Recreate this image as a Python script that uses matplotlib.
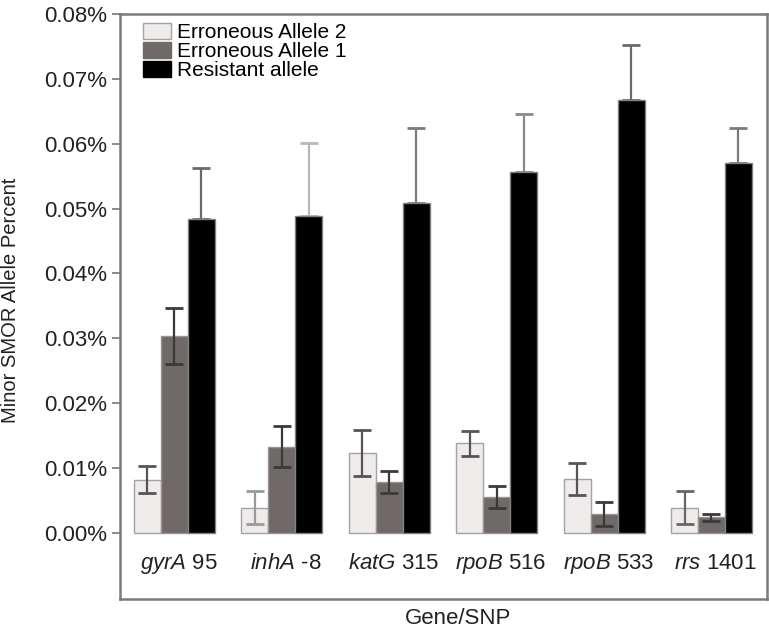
import matplotlib
matplotlib.use("Agg")
import matplotlib.pyplot as plt
import numpy as np
from matplotlib.patches import Patch

plt.rcParams['font.family'] = ['Liberation Sans', 'DejaVu Sans']
plt.rcParams['mathtext.fontset'] = 'custom'
plt.rcParams['mathtext.rm'] = 'Liberation Sans'
plt.rcParams['mathtext.it'] = 'Liberation Sans:italic'

genes = ['gyrA', 'inhA', 'katG', 'rpoB', 'rpoB', 'rrs']
positions = ['95', '-8', '315', '516', '533', '1401']

series_names = ['Erroneous Allele 2', 'Erroneous Allele 1', 'Resistant allele']
err2 = [0.0082, 0.0039, 0.0123, 0.0138, 0.0083, 0.0039]
err2_sd = [0.0021, 0.0026, 0.0036, 0.0019, 0.0025, 0.0025]
err1 = [0.0304, 0.0133, 0.0079, 0.0055, 0.0029, 0.0024]
err1_sd = [0.0043, 0.0032, 0.0017, 0.0017, 0.0019, 0.0005]
resist = [0.0484, 0.0488, 0.0508, 0.0557, 0.0668, 0.0570]
resist_sd = [0.0079, 0.0113, 0.0116, 0.0089, 0.0084, 0.0054]

yticks = [0.00, 0.01, 0.02, 0.03, 0.04, 0.05, 0.06, 0.07, 0.08]

# styling
fills = ['#eeebea', '#6f6968', '#000000']
edges = ['#a5a2a1', '#9a9594', '#808080']
ecols_err2 = ['#555555', '#999999', '#555555', '#555555', '#555555', '#666666']
ecols_err1 = ['#3a3a3a', '#3a3a3a', '#3a3a3a', '#3a3a3a', '#3a3a3a', '#3a3a3a']
ecols_res = ['#6a6a6a', '#b8b8b8', '#7a7a7a', '#8a8a8a', '#6a6a6a', '#7a7a7a']

fig = plt.figure(figsize=(7.69, 6.31), dpi=100)
ax = fig.add_axes([120/769, 32/631, (767-120)/769, (599-14)/631])

x = np.arange(len(genes))
w = 0.251
data = [(err2, err2_sd, ecols_err2), (err1, err1_sd, ecols_err1), (resist, resist_sd, ecols_res)]
for k, ((vals, sds, ecs), fc, ec) in enumerate(zip(data, fills, edges)):
    pos = x + (k - 1) * w
    ax.bar(pos, vals, width=w, color=fc, edgecolor=ec, linewidth=1.0, zorder=2)
    for i in range(len(vals)):
        if k < 2:
            yerr = sds[i]
            z = 3
        else:
            yerr = [[0], [sds[i]]]
            z = 1
        ax.errorbar(pos[i], vals[i], yerr=yerr, fmt='none', ecolor=ecs[i],
                    elinewidth=1.6, capsize=6.5, capthick=2.0, zorder=z)

ax.set_xlim(-0.507, 5.517)
ax.set_ylim(-0.0102, 0.08)
ax.set_yticks(yticks)
ax.set_yticklabels([f'{v:.2f}%' for v in yticks], fontsize=16, color='#222222')
ax.set_xticks([])
ax.tick_params(axis='y', direction='out', length=6, width=1.2, color='#777777', pad=3.5)

for s in ax.spines.values():
    s.set_color('#7a7a7a')
    s.set_linewidth(1.8)

for i, (g, p) in enumerate(zip(genes, positions)):
    ax.text(i + 0.04, -0.0048, rf'$\mathit{{{g}}}$ {p}', ha='center', va='center',
            fontsize=16, color='#222222')

handles = [Patch(facecolor=fc, edgecolor=ec, linewidth=1.0)
           for fc, ec in zip(fills, ['#a5a2a1', '#6f6968', '#000000'])]
ax.legend(handles, series_names, loc='upper left', bbox_to_anchor=(0.0355, 0.985),
          frameon=False, fontsize=15, handlelength=1.35, handleheight=0.8,
          labelspacing=0.0, handletextpad=0.3, borderaxespad=0, borderpad=0)

fig.text(11/769, 1 - 300/631, 'Minor SMOR Allele Percent', rotation=90,
         ha='center', va='center', fontsize=14.5, color='#222222')
fig.text(458/769, 1 - 619/631, 'Gene/SNP', ha='center', va='center',
         fontsize=16, color='#222222')

fig.savefig('out.png', dpi=100)
